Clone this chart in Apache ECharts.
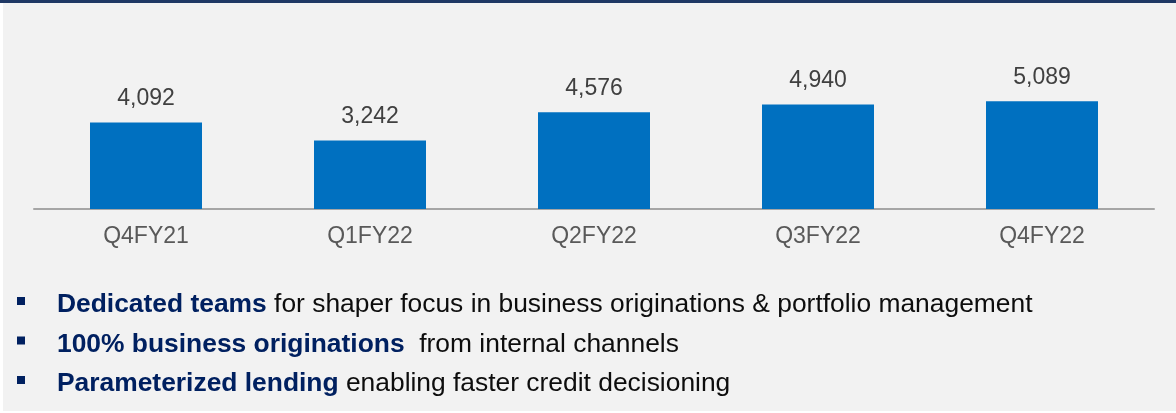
<!DOCTYPE html>
<html>
<head>
<meta charset="utf-8">
<title>Business originations</title>
<script src="https://cdn.jsdelivr.net/npm/echarts@6/dist/echarts.min.js"></script>
<style>
  html, body { margin: 0; padding: 0; background: #fff; }
  #chart { width: 1176px; height: 413px; }
</style>
</head>
<body>
<div id="chart"></div>
<script>
// quarters on the x axis
var categories = ['Q4FY21', 'Q1FY22', 'Q2FY22', 'Q3FY22', 'Q4FY22']
// bar values
var values = [4092, 3242, 4576, 4940, 5089]
// bullet lines: bold lead + normal rest
var bulletBold = ['Dedicated teams', '100% business originations', 'Parameterized lending']
var bulletRest = [
  ' for shaper focus in business originations & portfolio management',
  '  from internal channels',
  ' enabling faster credit decisioning'
]

var myChart = echarts.init(document.getElementById('chart'))

var baseFont = 'Arial, "Liberation Sans", Helvetica, sans-serif'

// frame + bullet points
var graphics = [
  { type: 'rect', shape: { x: 0, y: 0, width: 3, height: 413 }, style: { fill: '#ffffff' }, silent: true },
  { type: 'rect', shape: { x: 0, y: 411, width: 1176, height: 2 }, style: { fill: '#ffffff' }, silent: true },
  { type: 'rect', shape: { x: 0, y: 0, width: 1176, height: 3 }, style: { fill: '#1f3864' }, silent: true }
]
var firstBaseline = 313
var lineGap = 39.5
bulletBold.forEach(function (b, i) {
  var base = firstBaseline + i * lineGap
  graphics.push({
    type: 'rect',
    shape: { x: 17, y: base - 16, width: 8, height: 8 },
    style: { fill: '#002060' },
    silent: true
  })
  graphics.push({
    type: 'text',
    x: 57,
    y: base - 8,
    style: {
      text: '{b|' + b + '}' + bulletRest[i],
      font: '26.4px ' + baseFont,
      fill: '#0d0d0d',
      verticalAlign: 'middle',
      rich: {
        b: { fontWeight: 'bold', fontSize: 26.4, fontFamily: baseFont, fill: '#002060', color: '#002060' }
      }
    },
    silent: true
  })
})

var option = {
  backgroundColor: '#f2f2f2',
  animation: false,
  grid: {
    left: 34,
    right: 22,
    top: 82,
    bottom: 204
  },
  xAxis: {
    type: 'category',
    data: categories,
    axisLine: { lineStyle: { color: '#a6a6a6', width: 2 } },
    axisTick: { show: false },
    axisLabel: {
      margin: 16,
      fontSize: 23,
      fontFamily: baseFont,
      color: '#595959'
    }
  },
  yAxis: {
    type: 'value',
    min: 0,
    max: 6000,
    show: false,
    splitLine: { show: false }
  },
  series: [
    {
      type: 'bar',
      data: values,
      barWidth: '50%',
      itemStyle: { color: '#0070c0' },
      label: {
        show: true,
        position: 'top',
        distance: 12,
        fontSize: 23,
        fontFamily: baseFont,
        color: '#404040',
        formatter: function (p) { return p.value.toLocaleString('en-US') }
      }
    }
  ],
  graphic: graphics
}

myChart.setOption(option)
window.addEventListener('resize', function () { myChart.resize() })
</script>
</body>
</html>
